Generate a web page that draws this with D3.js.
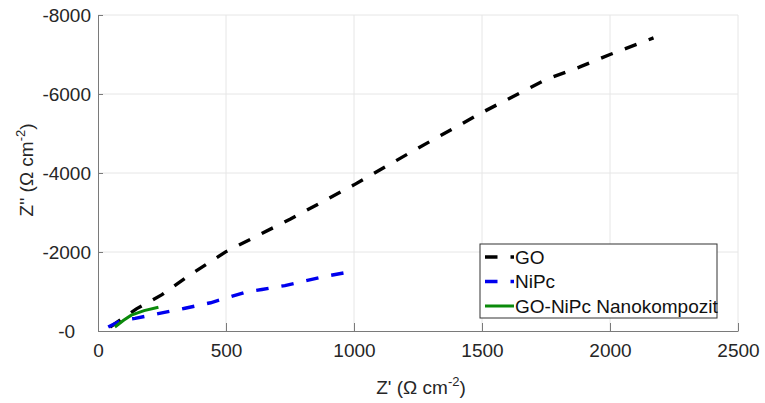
<html>
<script src="https://d3js.org/d3.v7.min.js"></script>
<body style="margin:0;background:#fff">
</body>
</html>

<script type="text/javascript">

// impedance data (Z', Z'')
var goRe   = [47, 150, 250, 350, 500, 750, 1000, 1250, 1500, 1750, 1880, 2000, 2170];
var goIm   = [-100, -560, -920, -1380, -2010, -2830, -3700, -4630, -5530, -6370, -6680, -7000, -7420];
var nipcRe = [40, 80, 110, 145, 240, 340, 440, 580, 640, 730, 880, 985];
var nipcIm = [-100, -235, -290, -320, -445, -575, -715, -990, -1050, -1150, -1375, -1500];
var compRe = [66, 100, 130, 180, 236];
var compIm = [-100, -270, -400, -515, -600];

var seriesNames = ["GO", "NiPc", "GO-NiPc Nanokompozit"];
var xTicks = [0, 500, 1000, 1500, 2000, 2500];
var yTicks = [0, -2000, -4000, -6000, -8000];
var yTickLabels = ["-0\u00a0\u00a0\u00a0", "-2000", "-4000", "-6000", "-8000"];

var W = 765, H = 403;
var font = "'Liberation Sans', Arial, Helvetica, sans-serif";

var svg = d3.select("body")
	.append("svg")
	.attr("width", W)
	.attr("height", H)
	.style("font-family", font);

var x_scale = d3.scaleLinear().domain([0, 2500]).range([98, 738]);
var y_scale = d3.scaleLinear().domain([0, -8000]).range([331, 15]);

// grid
svg.append("g").selectAll("line").data(xTicks.slice(1)).enter().append("line")
	.attr("x1", function(d){ return x_scale(d); })
	.attr("x2", function(d){ return x_scale(d); })
	.attr("y1", y_scale(0)).attr("y2", y_scale(-8000))
	.attr("stroke", "#e6e6e6");
svg.append("g").selectAll("line").data(yTicks.slice(1)).enter().append("line")
	.attr("y1", function(d){ return y_scale(d); })
	.attr("y2", function(d){ return y_scale(d); })
	.attr("x1", x_scale(0)).attr("x2", x_scale(2500))
	.attr("stroke", "#e6e6e6");

// axes, ticks pointing inward
var xAxis = svg.append("g")
	.attr("transform", "translate(0," + y_scale(0) + ")")
	.call(d3.axisBottom(x_scale).tickValues(xTicks).tickSize(-8).tickPadding(13).tickSizeOuter(0)
		.tickFormat(function(d){ return String(d); }));
var yAxis = svg.append("g")
	.attr("transform", "translate(" + x_scale(0) + ",0)")
	.call(d3.axisLeft(y_scale).tickValues(yTicks).tickSize(-5).tickPadding(7).tickSizeOuter(0)
		.tickFormat(function(d, i){ return yTickLabels[i]; }));

[xAxis, yAxis].forEach(function(a){
	a.select(".domain").attr("stroke", "#7a7a7a");
	a.selectAll(".tick line").attr("stroke", "#7a7a7a");
	a.selectAll("text").attr("fill", "#262626").style("font-size", "19px").style("font-family", font);
});

// lines
var line = d3.line()
	.x(function(d){ return x_scale(d[0]); })
	.y(function(d){ return y_scale(d[1]); });

var series = [
	{re: goRe, im: goIm, color: "#000000", dash: "12.5,13", width: 3.4},
	{re: nipcRe, im: nipcIm, color: "#0000ee", dash: "12.5,13", width: 3.4},
	{re: compRe, im: compIm, color: "#0b8a0b", dash: null, width: 3}
];

series.forEach(function(s){
	svg.append("path")
		.datum(d3.zip(s.re, s.im))
		.attr("d", line)
		.attr("fill", "none")
		.attr("stroke", s.color)
		.attr("stroke-width", s.width)
		.attr("stroke-dasharray", s.dash);
});

// axis titles
var xt = svg.append("text")
	.attr("x", 421).attr("y", 394)
	.attr("text-anchor", "middle")
	.attr("fill", "#262626")
	.style("font-size", "19px");
xt.append("tspan").text("Z' (\u03a9 cm");
xt.append("tspan").attr("dy", -8).style("font-size", "13px").text("-2");
xt.append("tspan").attr("dy", 8).text(")");

var yt = svg.append("text")
	.attr("transform", "translate(33,170) rotate(-90)")
	.attr("text-anchor", "middle")
	.attr("fill", "#262626")
	.style("font-size", "19px");
yt.append("tspan").text("Z'' (\u03a9 cm");
yt.append("tspan").attr("dy", -8).style("font-size", "13px").text("-2");
yt.append("tspan").attr("dy", 8).text(")");

// legend
var lg = svg.append("g");
lg.append("rect")
	.attr("x", 480).attr("y", 244)
	.attr("width", 237).attr("height", 74)
	.attr("fill", "#fff")
	.attr("stroke", "#333")
	.attr("stroke-width", 1);

seriesNames.forEach(function(name, i){
	var cy = 257 + i * 24.5;
	lg.append("line")
		.attr("x1", 485).attr("x2", 514)
		.attr("y1", cy).attr("y2", cy)
		.attr("stroke", series[i].color)
		.attr("stroke-width", series[i].width)
		.attr("stroke-dasharray", series[i].dash);
	lg.append("text")
		.attr("x", 515).attr("y", cy)
		.attr("dy", "0.35em")
		.attr("fill", "#111")
		.style("font-size", "19px")
		.text(name);
});
</script>
